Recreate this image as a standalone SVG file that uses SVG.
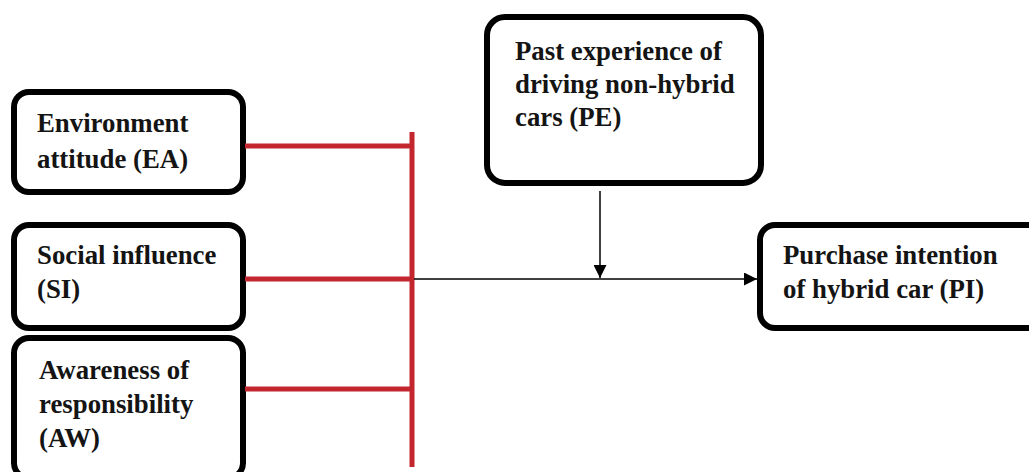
<svg xmlns="http://www.w3.org/2000/svg" width="1029" height="472" viewBox="0 0 1029 472">
<defs>
<style>
.box{fill:#fff;stroke:#000;stroke-width:6}
.t{font-family:"Liberation Serif","Times New Roman",serif;font-weight:bold;font-size:26.8px;fill:#141414}
.red{stroke:#c4262e;stroke-width:5;fill:none}
.blk{stroke:#000;stroke-width:1.5;fill:none}
</style>
<marker id="ah2" viewBox="0 0 10 10" refX="10" refY="5" markerWidth="13" markerHeight="13" orient="auto" markerUnits="userSpaceOnUse">
<path d="M0,0 L10,5 L0,10 z" fill="#000"/>
</marker>
</defs>
<rect width="1029" height="472" fill="#fff"/>
<g id="EA">
<rect class="box" x="14" y="92" width="229" height="100" rx="15"/>
<text class="t" x="37" y="132">Environment</text>
<text class="t" x="37" y="168">attitude (EA)</text>
</g>
<g id="SI">
<rect class="box" x="14" y="225" width="229" height="103" rx="15"/>
<text class="t" x="37" y="264">Social influence</text>
<text class="t" x="37" y="298">(SI)</text>
</g>
<g id="AW">
<rect class="box" x="14" y="338" width="229" height="140" rx="15"/>
<text class="t" x="39" y="379">Awareness of</text>
<text class="t" x="39" y="413">responsibility</text>
<text class="t" x="39" y="447">(AW)</text>
</g>
<g id="PE">
<rect class="box" x="487" y="17" width="274" height="166" rx="18"/>
<text class="t" x="515" y="60">Past experience of</text>
<text class="t" x="515" y="93">driving non-hybrid</text>
<text class="t" x="515" y="126">cars (PE)</text>
</g>
<g id="PI">
<rect class="box" x="760" y="225" width="290" height="103" rx="15"/>
<text class="t" x="783" y="264">Purchase intention</text>
<text class="t" x="783" y="298">of hybrid car (PI)</text>
</g>
<g id="connectors">
<line class="red" x1="412" y1="132" x2="412" y2="467"/>
<line class="red" x1="245" y1="146" x2="412" y2="146"/>
<line class="red" x1="245" y1="279" x2="412" y2="279"/>
<line class="red" x1="245" y1="389" x2="412" y2="389"/>
<line class="blk" x1="414" y1="279" x2="757" y2="279" marker-end="url(#ah2)"/>
<line class="blk" x1="600" y1="191" x2="600" y2="278" marker-end="url(#ah2)"/>
</g>
</svg>
